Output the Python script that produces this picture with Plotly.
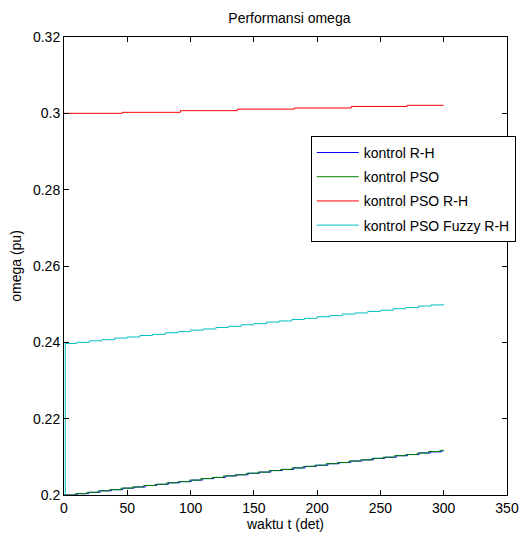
import plotly.graph_objects as go

# ---- data ----
t_rh = [0, 10.5, 19.5, 28.5, 37.5, 46.5, 55.5, 64.5, 73.5, 82.5, 91.5, 100.5, 109.5, 118.5,
        127.5, 136.5, 145.5, 154.5, 163.5, 172.5, 181.5, 190.5, 199.5, 208.5, 217.5, 226.5,
        235.5, 244.5, 253.5, 262.5, 271.5, 280.5, 289.5, 298.5, 300]
w_rh = [0.2000, 0.20035, 0.2007, 0.2011, 0.2014, 0.2018, 0.2021, 0.2025, 0.2028, 0.2032,
        0.2035, 0.2039, 0.2043, 0.2046, 0.2050, 0.2053, 0.2057, 0.2060, 0.2064, 0.2067,
        0.2071, 0.2075, 0.2078, 0.2082, 0.2085, 0.2089, 0.2092, 0.2096, 0.2099, 0.2103,
        0.2106, 0.2110, 0.2113, 0.2116, 0.2116]

t_pso = [0, 9, 18, 27, 36, 45, 54, 63, 72, 81, 90, 99, 108, 117, 126, 135, 144, 153, 162,
         171, 180, 189, 198, 207, 216, 225, 234, 243, 252, 261, 270, 279, 288, 297, 300]
w_pso = [0.2000, 0.20035, 0.2007, 0.2011, 0.2014, 0.2018, 0.2021, 0.2025, 0.2028, 0.2032,
         0.2035, 0.2039, 0.2043, 0.2046, 0.2050, 0.2053, 0.2057, 0.2060, 0.2064, 0.2067,
         0.2071, 0.2075, 0.2078, 0.2082, 0.2085, 0.2089, 0.2092, 0.2096, 0.2099, 0.2103,
         0.2106, 0.2110, 0.2114, 0.2117, 0.2117]

t_psorh = [0, 46, 92, 137, 182, 227, 271, 300]
w_psorh = [0.3000, 0.30026, 0.3007, 0.3011, 0.3014, 0.3018, 0.3021, 0.3021]

t_fuzzy = [0, 1, 10, 20, 30, 40, 50, 60, 70, 80, 90, 100, 110, 120, 130, 140, 150, 160, 170,
           180, 190, 200, 210, 220, 230, 240, 250, 260, 270, 280, 290, 300]
w_fuzzy = [0.2000, 0.2397, 0.2400, 0.2404, 0.2407, 0.2411, 0.2414, 0.2418, 0.2421, 0.2425,
           0.2428, 0.2432, 0.2435, 0.2439, 0.2442, 0.2446, 0.2449, 0.2453, 0.2456, 0.2460,
           0.2463, 0.2467, 0.2470, 0.2474, 0.2477, 0.2481, 0.2484, 0.2488, 0.2491, 0.2495,
           0.2498, 0.2500]

x_ticks = [0, 50, 100, 150, 200, 250, 300, 350]
y_ticks = [0.2, 0.22, 0.24, 0.26, 0.28, 0.3, 0.32]
y_labels = ["0.2", "0.22", "0.24", "0.26", "0.28", "0.3", "0.32"]

series = [
    ("kontrol R-H", t_rh, w_rh, "#0000ff"),
    ("kontrol PSO", t_pso, w_pso, "#008000"),
    ("kontrol PSO R-H", t_psorh, w_psorh, "#ff0000"),
    ("kontrol PSO Fuzzy R-H", t_fuzzy, w_fuzzy, "#00bfbf"),
]

fig = go.Figure()
for i, (name, t, w, c) in enumerate(series):
    fig.add_trace(go.Scatter(x=t, y=w, mode="lines", name=name,
                             line=dict(color=c, width=1, shape="hv"),
                             legendgroup=f"g{i}"))

font = dict(family="Liberation Sans, Arial, sans-serif", size=14, color="#000000")
axis_common = dict(showline=True, linecolor="#000000", linewidth=1, mirror="ticks",
                   ticks="inside", ticklen=5, tickcolor="#000000", showgrid=False,
                   zeroline=False, tickfont=font)

fig.update_layout(
    width=531, height=546,
    margin=dict(l=64, r=16, t=37, b=51),
    paper_bgcolor="white", plot_bgcolor="white",
    font=font,
    title=dict(text="Performansi omega", x=0.545, xanchor="center", y=0.967, yanchor="middle",
               font=font),
    xaxis=dict(range=[0, 350], tickvals=x_ticks,
               title=dict(text="waktu t (det)", standoff=4, font=font), **axis_common),
    yaxis=dict(range=[0.2, 0.32], tickvals=y_ticks, ticktext=y_labels,
               title=dict(text="omega (pu)", standoff=8, font=font), **axis_common),
    legend=dict(x=0.557, y=0.784, xanchor="left", yanchor="top",
                bgcolor="white", bordercolor="#000000", borderwidth=1,
                traceorder="grouped", tracegroupgap=3, itemwidth=42, font=font),
    showlegend=True,
)

fig.write_html("out.html")
